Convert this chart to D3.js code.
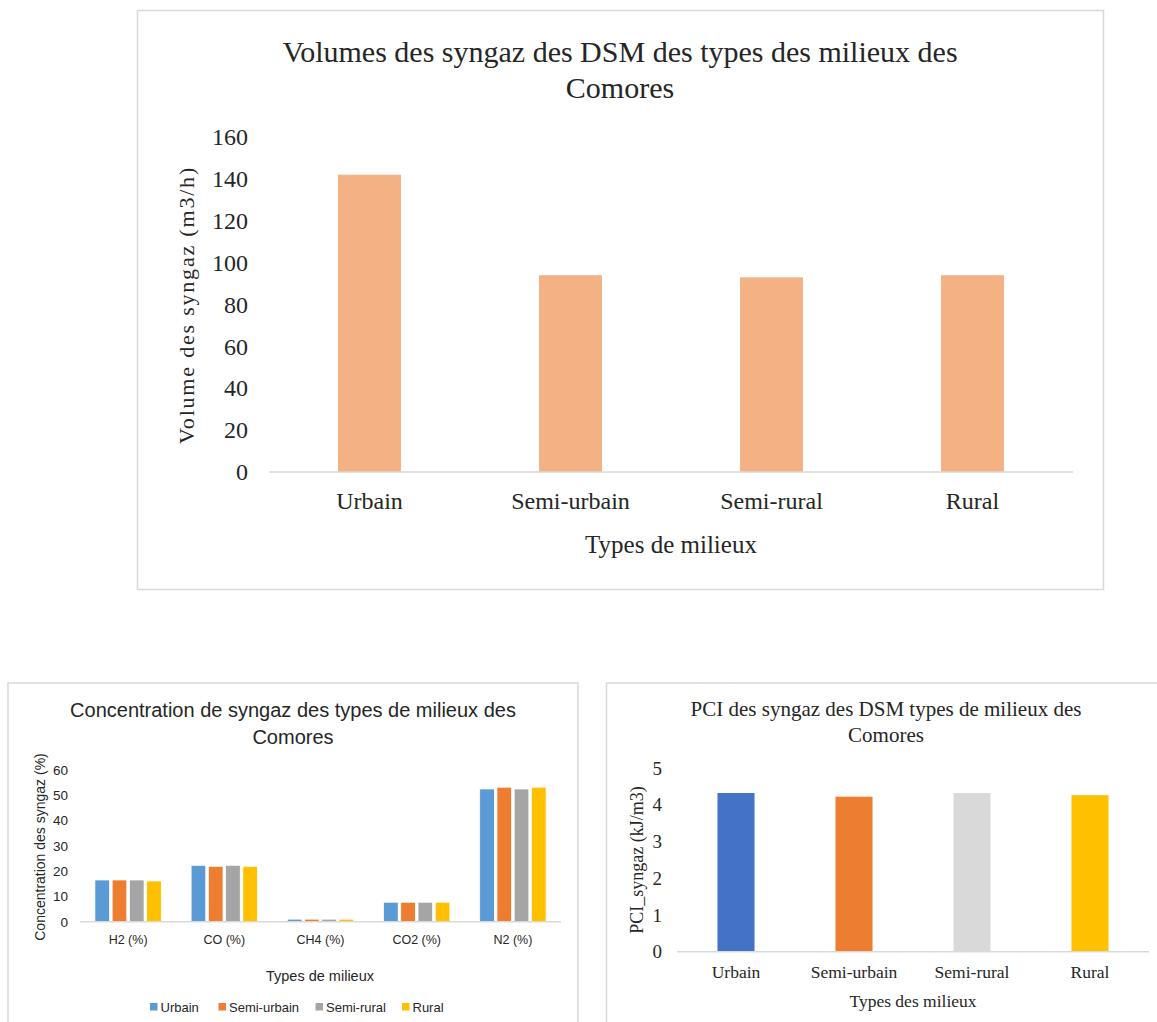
<!DOCTYPE html>
<html>
<head>
<meta charset="utf-8">
<script src="https://cdn.jsdelivr.net/npm/d3@7"></script>
<style>
  html, body { margin: 0; padding: 0; background: #ffffff; }
  svg { display: block; }
</style>
</head>
<body>
<svg id="chart" width="1157" height="1022"></svg>
<script>
// ---------------- DATA ----------------
const volCategories = ["Urbain", "Semi-urbain", "Semi-rural", "Rural"];
const volValues = [142, 94, 93, 94];
const volTicks = [0, 20, 40, 60, 80, 100, 120, 140, 160];

const gasCategories = ["H2 (%)", "CO (%)", "CH4 (%)", "CO2 (%)", "N2 (%)"];
const milieuSeries = ["Urbain", "Semi-urbain", "Semi-rural", "Rural"];
const gasUrbain = [16.5, 22.3, 1.0, 7.7, 52.5];
const gasSemiUrbain = [16.5, 21.9, 1.0, 7.7, 53.2];
const gasSemiRural = [16.5, 22.3, 1.0, 7.7, 52.5];
const gasRural = [16.1, 21.9, 1.0, 7.7, 53.2];
const gasTicks = [0, 10, 20, 30, 40, 50, 60];

const pciCategories = ["Urbain", "Semi-urbain", "Semi-rural", "Rural"];
const pciValues = [4.32, 4.22, 4.32, 4.26];
const pciTicks = [0, 1, 2, 3, 4, 5];

// ---------------- STYLE ----------------
const SERIF = "'Liberation Serif', 'Times New Roman', serif";
const SANS = "'Liberation Sans', Arial, sans-serif";
const TEXT = "#262626";
const AXIS = "#d9d9d9";
const BORDER = "#d9d9d9";
const gasColors = ["#5B9BD5", "#ED7D31", "#A5A5A5", "#FFC000"];
const pciColors = ["#4472C4", "#ED7D31", "#D9D9D9", "#FFC000"];

const svg = d3.select("#chart");

function frame(x, y, w, h) {
  svg.append("rect").attr("x", x).attr("y", y).attr("width", w).attr("height", h)
    .attr("fill", "#fff").attr("stroke", BORDER).attr("stroke-width", 1.5);
}

function styleAxis(g, font, size) {
  g.select(".domain").remove();
  g.selectAll(".tick line").remove();
  g.selectAll(".tick text").attr("font-family", font).attr("font-size", size).attr("fill", TEXT);
}

// ================= CHART 1 : Volumes =================
(function () {
  frame(137.5, 10.5, 966, 579);
  const x = d3.scaleBand().domain(volCategories).range([269, 1073]).paddingInner(0.687).paddingOuter(0.3435);
  const y = d3.scaleLinear().domain([0, 160]).range([472, 137]);

  svg.append("text").attr("x", 620).attr("y", 62).attr("text-anchor", "middle")
    .attr("font-family", SERIF).attr("font-size", 30).attr("fill", TEXT)
    .text("Volumes des syngaz des DSM des types des milieux des");
  svg.append("text").attr("x", 620).attr("y", 98).attr("text-anchor", "middle")
    .attr("font-family", SERIF).attr("font-size", 30).attr("fill", TEXT)
    .text("Comores");

  const yAxis = svg.append("g").attr("transform", "translate(256,0)")
    .call(d3.axisLeft(y).tickValues(volTicks).tickSize(0).tickPadding(8).tickFormat(d3.format("d")));
  styleAxis(yAxis, SERIF, 24);

  svg.append("g").selectAll("rect").data(volValues).join("rect")
    .attr("x", (d, i) => x(volCategories[i]))
    .attr("y", d => y(d))
    .attr("width", x.bandwidth())
    .attr("height", d => y(0) - y(d))
    .attr("fill", "#F4B183");

  svg.append("line").attr("x1", 269).attr("x2", 1073).attr("y1", y(0)).attr("y2", y(0))
    .attr("stroke", AXIS).attr("stroke-width", 1.5);

  const xAxis = svg.append("g").attr("transform", `translate(0,${y(0)})`)
    .call(d3.axisBottom(x).tickSize(0).tickPadding(20));
  styleAxis(xAxis, SERIF, 24);

  svg.append("text").attr("x", 671).attr("y", 553).attr("text-anchor", "middle")
    .attr("font-family", SERIF).attr("font-size", 25).attr("fill", TEXT)
    .text("Types de milieux");

  svg.append("text").attr("transform", "translate(194,305) rotate(-90)").attr("text-anchor", "middle")
    .attr("font-family", SERIF).attr("font-size", 22).attr("letter-spacing", 1.8).attr("fill", TEXT)
    .text("Volume des syngaz (m3/h)");
})();

// ================= CHART 2 : Concentration =================
(function () {
  frame(8, 683, 570, 345);
  const x0 = d3.scaleBand().domain(gasCategories).range([80, 561]);
  const gw = x0.step() * 0.69;
  const x1 = d3.scaleBand().domain(milieuSeries).range([(x0.step() - gw) / 2, (x0.step() + gw) / 2]).paddingInner(0.15);
  const y = d3.scaleLinear().domain([0, 60]).range([921.7, 770]);

  svg.append("text").attr("x", 293).attr("y", 717).attr("text-anchor", "middle")
    .attr("font-family", SANS).attr("font-size", 20).attr("fill", TEXT)
    .text("Concentration de syngaz des types de milieux des");
  svg.append("text").attr("x", 293).attr("y", 744).attr("text-anchor", "middle")
    .attr("font-family", SANS).attr("font-size", 20).attr("fill", TEXT)
    .text("Comores");

  const yAxis = svg.append("g").attr("transform", "translate(72,0)")
    .call(d3.axisLeft(y).tickValues(gasTicks).tickSize(0).tickPadding(4).tickFormat(d3.format("d")));
  styleAxis(yAxis, SANS, 13.5);

  const seriesData = [gasUrbain, gasSemiUrbain, gasSemiRural, gasRural];
  seriesData.forEach((vals, s) => {
    svg.append("g").selectAll("rect").data(vals).join("rect")
      .attr("x", (d, i) => x0(gasCategories[i]) + x1(milieuSeries[s]))
      .attr("y", d => y(d))
      .attr("width", x1.bandwidth())
      .attr("height", d => y(0) - y(d))
      .attr("fill", gasColors[s])
      .attr("stroke", "#ffffff").attr("stroke-width", 0.75);
  });

  svg.append("line").attr("x1", 80).attr("x2", 561).attr("y1", y(0)).attr("y2", y(0))
    .attr("stroke", AXIS).attr("stroke-width", 1.5);

  const xAxis = svg.append("g").attr("transform", `translate(0,${y(0)})`)
    .call(d3.axisBottom(x0).tickSize(0).tickPadding(13));
  styleAxis(xAxis, SANS, 12.5);

  svg.append("text").attr("x", 320).attr("y", 981).attr("text-anchor", "middle")
    .attr("font-family", SANS).attr("font-size", 14.5).attr("fill", TEXT)
    .text("Types de milieux");

  svg.append("text").attr("transform", "translate(45,847) rotate(-90)").attr("text-anchor", "middle")
    .attr("font-family", SANS).attr("font-size", 14).attr("fill", TEXT)
    .text("Concentration des syngaz (%)");

  // legend
  const legX = [150, 218.5, 315.5, 402];
  const leg = svg.append("g");
  milieuSeries.forEach((name, i) => {
    leg.append("rect").attr("x", legX[i]).attr("y", 1003).attr("width", 7.5).attr("height", 7.5).attr("fill", gasColors[i]);
    leg.append("text").attr("x", legX[i] + 10.5).attr("y", 1011.5)
      .attr("font-family", SANS).attr("font-size", 13).attr("fill", TEXT).text(name);
  });
})();

// ================= CHART 3 : PCI =================
(function () {
  frame(606.5, 683, 560, 345);
  const x = d3.scaleBand().domain(pciCategories).range([677, 1149]).paddingInner(0.686).paddingOuter(0.343);
  const y = d3.scaleLinear().domain([0, 5]).range([951.7, 768]);

  svg.append("text").attr("x", 886).attr("y", 716).attr("text-anchor", "middle")
    .attr("font-family", SERIF).attr("font-size", 21).attr("fill", TEXT)
    .text("PCI des syngaz des DSM types de milieux des");
  svg.append("text").attr("x", 886).attr("y", 742).attr("text-anchor", "middle")
    .attr("font-family", SERIF).attr("font-size", 21).attr("fill", TEXT)
    .text("Comores");

  const yAxis = svg.append("g").attr("transform", "translate(667,0)")
    .call(d3.axisLeft(y).tickValues(pciTicks).tickSize(0).tickPadding(5).tickFormat(d3.format("d")));
  styleAxis(yAxis, SERIF, 19);

  svg.append("g").selectAll("rect").data(pciValues).join("rect")
    .attr("x", (d, i) => x(pciCategories[i]))
    .attr("y", d => y(d))
    .attr("width", x.bandwidth())
    .attr("height", d => y(0) - y(d))
    .attr("fill", (d, i) => pciColors[i]);

  svg.append("line").attr("x1", 677).attr("x2", 1149).attr("y1", y(0)).attr("y2", y(0))
    .attr("stroke", AXIS).attr("stroke-width", 1.5);

  const xAxis = svg.append("g").attr("transform", `translate(0,${y(0)})`)
    .call(d3.axisBottom(x).tickSize(0).tickPadding(14));
  styleAxis(xAxis, SERIF, 17.5);

  svg.append("text").attr("x", 913).attr("y", 1007).attr("text-anchor", "middle")
    .attr("font-family", SERIF).attr("font-size", 17.5).attr("fill", TEXT)
    .text("Types des milieux");

  svg.append("text").attr("transform", "translate(643,860) rotate(-90)").attr("text-anchor", "middle")
    .attr("font-family", SERIF).attr("font-size", 18).attr("fill", TEXT)
    .text("PCI_syngaz (kJ/m3)");
})();
</script>
</body>
</html>
